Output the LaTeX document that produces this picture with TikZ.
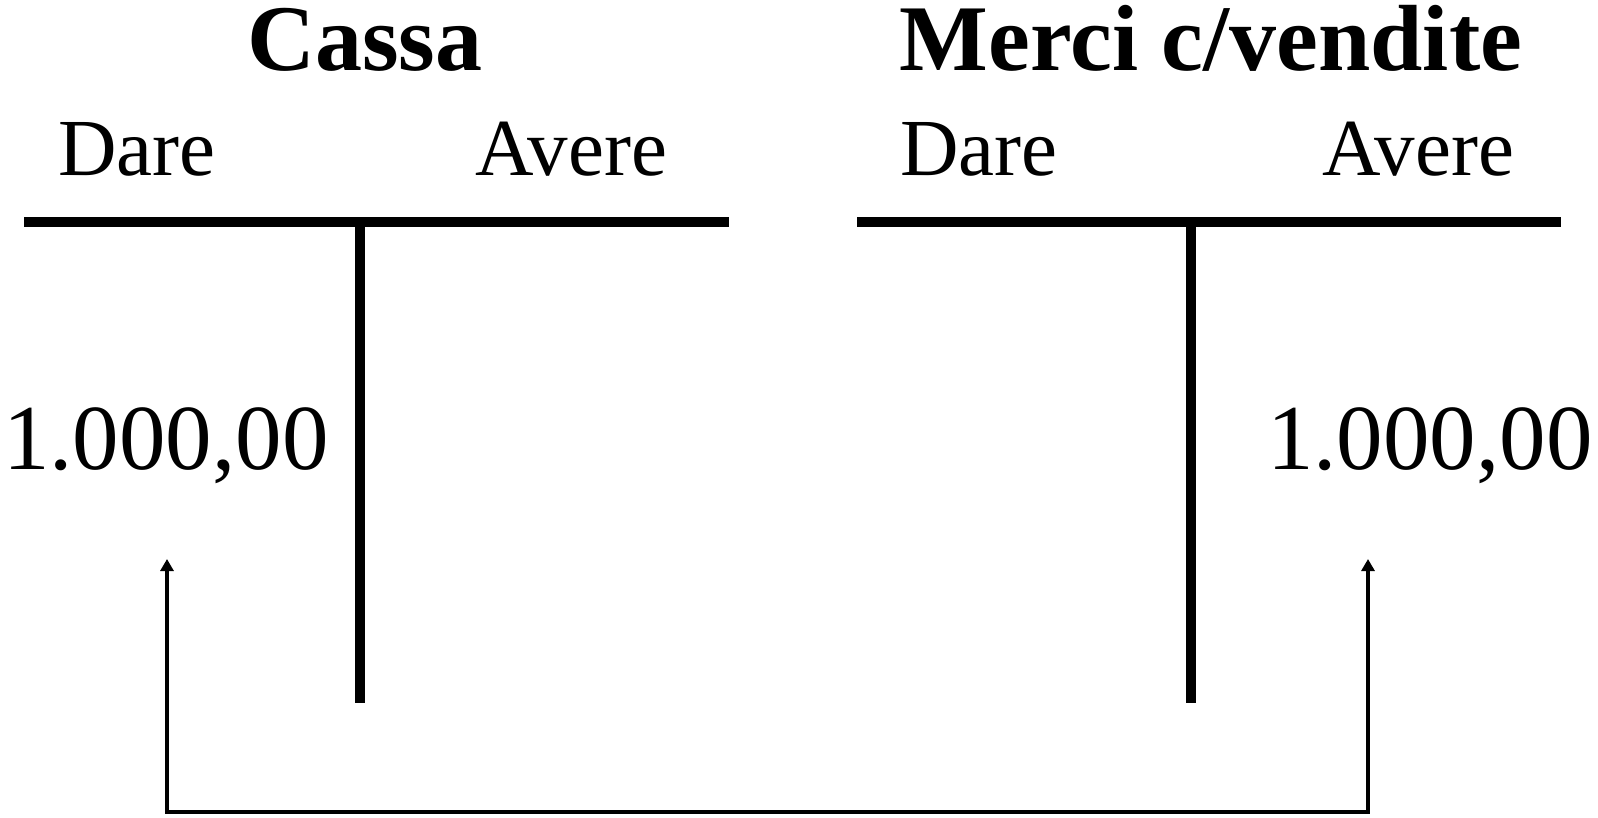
\documentclass[tikz,border=0pt]{standalone}
\usepackage{fontspec}
\setmainfont{Liberation Serif}
\usetikzlibrary{arrows.meta,positioning}
\tikzset{
  titolo/.style={inner sep=0pt, anchor=base, font=\fontsize{94}{100}\selectfont\bfseries},
  lato/.style={inner sep=0pt, anchor=base west, font=\fontsize{81}{90}\selectfont},
  importo/.style={inner sep=0pt, anchor=base west, font=\fontsize{93}{100}\selectfont},
  tline/.style={line width=10pt},
  freccia/.style={line width=4pt, {Triangle[length=12pt,width=13pt]}-{Triangle[length=12pt,width=13pt]}}
}
\begin{document}
\begin{tikzpicture}[x=1pt, y=-1pt]
  \useasboundingbox (0,0) rectangle (1598,817);
  % Titles
  \node[titolo] (cassa) at (365,70) {Cassa};
  \node[titolo] (merci) at (1211,70) {Merci c/vendite};
  % Sides
  \node[lato] (dareL) at (58,175) {Dare};
  \node[lato] (avereL) at (475,175) {Avere};
  \node[lato] (dareR) at (900,175) {Dare};
  \node[lato] (avereR) at (1322,175) {Avere};
  % T accounts
  \coordinate (tL1) at (24,222);
  \coordinate (tL2) at (729,222);
  \coordinate (tLtop) at (360,222);
  \coordinate (tLbot) at (360,703);
  \coordinate (tR1) at (857,222);
  \coordinate (tR2) at (1561,222);
  \coordinate (tRtop) at (1191,222);
  \coordinate (tRbot) at (1191,703);
  \draw[tline] (tL1) -- (tL2);
  \draw[tline] (tLtop) -- (tLbot);
  \draw[tline] (tR1) -- (tR2);
  \draw[tline] (tRtop) -- (tRbot);
  % Amounts
  \node[importo] (numL) at (3,469) {1.000,00};
  \node[importo] (numR) at (1267,469) {1.000,00};
  % Connector
  \coordinate (tipL) at (167,559);
  \coordinate (tipR) at (1368,559);
  \coordinate (baseL) at (167,812);
  \coordinate (baseR) at (1368,812);
  \draw[freccia] (tipL) -- (baseL) -- (baseR) -- (tipR);
\end{tikzpicture}
\end{document}
